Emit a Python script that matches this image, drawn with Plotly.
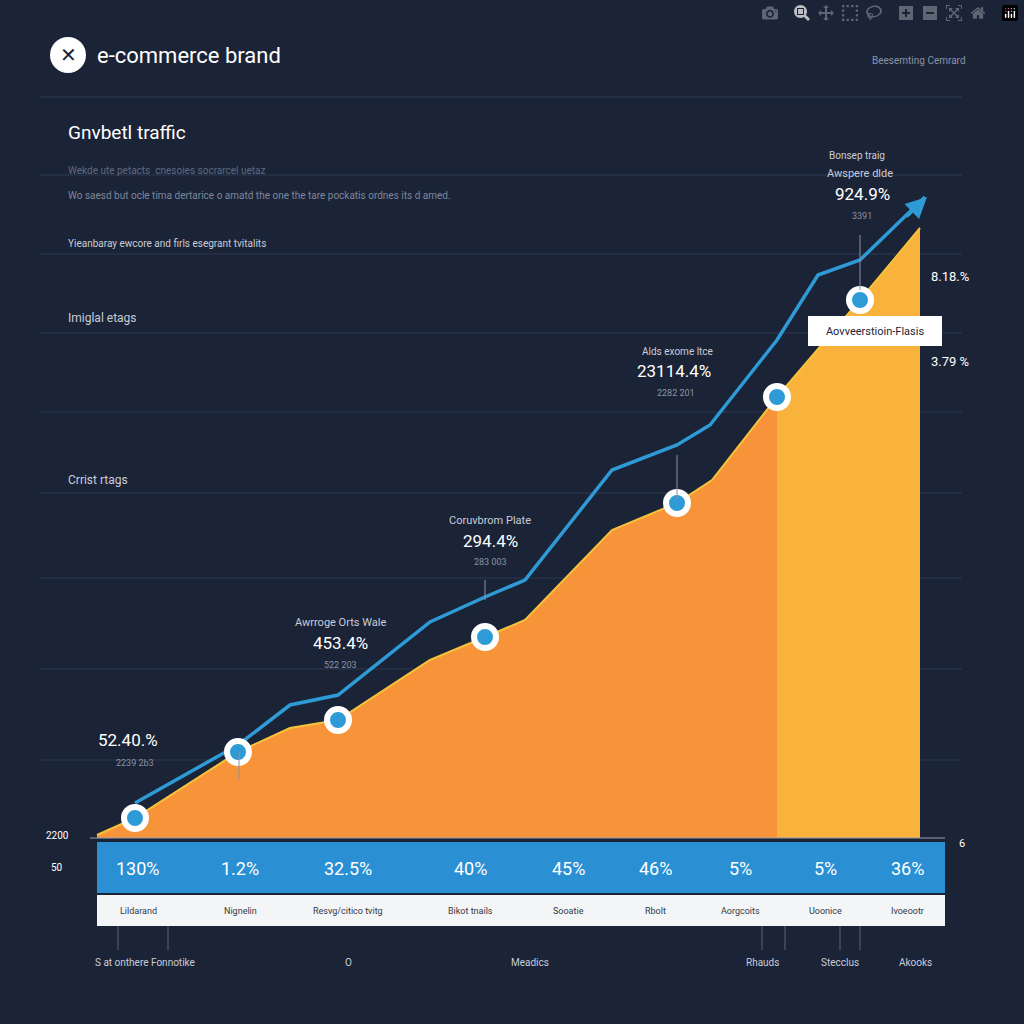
import plotly.graph_objects as go

# traffic series (x = day index, y = traffic level)
area_x = [97, 135, 238, 290, 338, 430, 485, 525, 612, 677, 712, 777]
area_y = [3, 20, 86, 110, 118, 178, 201, 218, 308, 335, 358, 441]
area2_x = [777, 860, 920]
area2_y = [441, 538, 610]
line_x = [135, 238, 290, 338, 430, 485, 525, 612, 677, 710, 777, 818, 860, 925]
line_y = [35, 93, 133, 143, 216, 241, 258, 368, 393, 413, 498, 563, 578, 641]
mark_x = [135, 238, 338, 485, 677, 777, 860]
mark_y = [20, 86, 118, 201, 335, 441, 538]

band_vals = ["130%", "1.2%", "32.5%", "40%", "45%", "46%", "5%", "5%", "36%"]
band_x = [138, 240, 348, 470, 568, 655, 740, 825, 907]
band_lbls = ["Lildarand", "Nignelin", "Resvg/citico tvitg", "Bikot tnails", "Sooatie",
             "Rbolt", "Aorgcoits", "Uoonice", "Ivoeootr"]
bottom_lbls = ["S at onthere Fonnotike", "O", "Meadics", "Rhauds", "Stecclus", "Akooks"]
bottom_x = [145, 348, 530, 762, 840, 915]

BG = "#1b2337"
W = 1024


def px(x):
    return x / W


def py(y):
    return 1 - y / W


fig = go.Figure()
fig.add_trace(go.Scatter(x=area_x, y=area_y, fill="tozeroy", mode="lines",
                         line=dict(color="#f5c33b", width=2), fillcolor="#f7943a"))
fig.add_trace(go.Scatter(x=area2_x, y=area2_y, fill="tozeroy", mode="lines",
                         line=dict(color="#f5c33b", width=2), fillcolor="#f9b23c"))
fig.add_trace(go.Scatter(x=line_x, y=line_y, mode="lines",
                         line=dict(color="#2e9ad6", width=3.5)))
fig.add_trace(go.Scatter(x=mark_x, y=mark_y, mode="markers",
                         marker=dict(size=22, color="#2e9ad6",
                                     line=dict(color="white", width=6))))

shapes = []
for gy in [97, 175, 254, 333, 412, 493, 578, 669, 760]:
    shapes.append(dict(type="line", xref="paper", yref="paper", x0=px(40), x1=px(962),
                       y0=py(gy), y1=py(gy), line=dict(color="#2d3850", width=1), layer="below"))
shapes.append(dict(type="line", xref="paper", yref="paper", x0=px(90), x1=px(945),
                   y0=py(838), y1=py(838), line=dict(color="#9aa3b5", width=1)))
shapes.append(dict(type="rect", xref="paper", yref="paper", x0=px(97), x1=px(945),
                   y0=py(893), y1=py(842), fillcolor="#2b8fd3", line_width=0))
shapes.append(dict(type="rect", xref="paper", yref="paper", x0=px(97), x1=px(945),
                   y0=py(926), y1=py(895), fillcolor="#f4f5f7", line_width=0))
for vx in [118, 168, 762, 785, 840, 860]:
    shapes.append(dict(type="line", xref="paper", yref="paper", x0=px(vx), x1=px(vx),
                       y0=py(926), y1=py(950), line=dict(color="#5b6478", width=1)))
for vx, y0, y1 in [(239, 752, 780), (485, 580, 600), (677, 455, 500), (860, 235, 290)]:
    shapes.append(dict(type="line", xref="paper", yref="paper", x0=px(vx), x1=px(vx),
                       y0=py(y0), y1=py(y1), line=dict(color="#8a93a6", width=1)))
shapes.append(dict(type="circle", xref="paper", yref="paper", x0=px(50), x1=px(86),
                   y0=py(73), y1=py(37), fillcolor="white", line_width=0))
shapes.append(dict(type="rect", xref="paper", yref="paper", x0=px(808), x1=px(942),
                   y0=py(346), y1=py(316), fillcolor="white", line_width=0))

ann = []


def t(x, y, s, size=11, color="#c8cdd8", anchor="left"):
    ann.append(dict(xref="paper", yref="paper", x=px(x), y=py(y), text=s, showarrow=False,
                    xanchor=anchor, yanchor="middle", font=dict(size=size, color=color)))


t(68, 55, "✕", 20, BG, "center")
t(95, 55, "e-commerce brand", 22, "white")
t(968, 60, "Beesemting Cemrard", 10, "#8a93a6", "right")
t(66, 132, "Gnvbetl traffic", 19, "white")
t(66, 170, "Wekde ute petacts  cnesoies socrarcel uetaz", 10, "#5f6a80")
t(66, 195, "Wo saesd but ocle tima dertarice o amatd the one the tare pockatis ordnes its d amed.", 10, "#7d879b")
t(66, 243, "Yieanbaray ewcore and firls esegrant tvitalits", 10, "#c8cdd8")
t(66, 318, "Imiglal etags", 12)
t(66, 480, "Crrist rtags", 12)
t(96, 740, "52.40.%", 17, "white")
t(135, 763, "2239 2b3", 9, "#8a93a6", "center")
t(340, 622, "Awrroge Orts Wale", 11, "#c8cdd8", "center")
t(340, 643, "453.4%", 17, "white", "center")
t(340, 665, "522 203", 9, "#8a93a6", "center")
t(490, 520, "Coruvbrom Plate", 11, "#c8cdd8", "center")
t(490, 541, "294.4%", 17, "white", "center")
t(490, 562, "283 003", 9, "#8a93a6", "center")
t(677, 351, "Alds exome ltce", 10, "#c8cdd8", "center")
t(674, 371, "23114.4%", 17, "white", "center")
t(676, 393, "2282 201", 9, "#8a93a6", "center")
t(857, 155, "Bonsep traig", 10, "#c8cdd8", "center")
t(860, 173, "Awspere dlde", 11, "#c8cdd8", "center")
t(862, 194, "924.9%", 17, "white", "center")
t(862, 216, "3391", 9, "#8a93a6", "center")
t(950, 276, "8.18.%", 13, "white", "center")
t(950, 361, "3.79 %", 13, "white", "center")
t(875, 331, "Aovveerstioin-Flasis", 11, "#1b2337", "center")
t(57, 835, "2200", 10, "white", "center")
t(57, 867, "50", 10, "white", "center")
t(962, 843, "6", 11, "white", "center")
for x, s in zip(band_x, band_vals):
    t(x, 868, s, 18, "white", "center")
for x, s in zip(band_x, band_lbls):
    t(x, 911, s, 9, "#333a48", "center")
for x, s in zip(bottom_x, bottom_lbls):
    t(x, 962, s, 10, "#c8cdd8", "center")

ann.append(dict(x=927, y=641, ax=905, ay=620, xref="x", yref="y", axref="x", ayref="y",
                showarrow=True, arrowhead=2, arrowsize=1.2, arrowwidth=3.5,
                arrowcolor="#2e9ad6", text=""))

fig.update_layout(
    width=1024, height=1024, paper_bgcolor=BG, plot_bgcolor=BG, showlegend=False,
    margin=dict(l=0, r=0, t=0, b=0), shapes=shapes, annotations=ann,
    font=dict(family="Roboto"),
    xaxis=dict(range=[0, 1024], visible=False),
    yaxis=dict(range=[-186, 838], visible=False),
)
fig.write_html("out.html", post_script="document.body.style.margin='0';document.body.style.background='%s';" % BG)
